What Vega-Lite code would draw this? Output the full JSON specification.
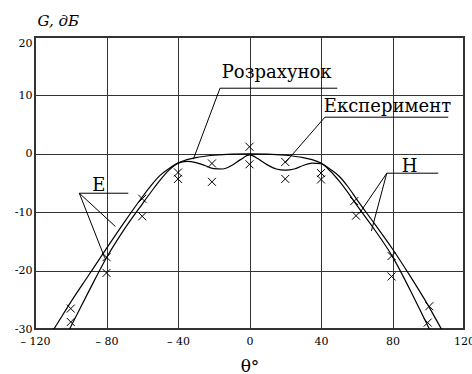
{
  "$schema": "https://vega.github.io/schema/vega-lite/v6.json",
  "width": 429,
  "height": 292,
  "autosize": {"type": "none"},
  "padding": {"left": 35, "top": 37, "right": 8, "bottom": 45},
  "background": "white",
  "config": {
    "view": {"stroke": "#333", "strokeWidth": 2},
    "font": "DejaVu Serif"
  },
  "datasets": {
    "curves": [
      {"curve": "S", "theta": -112, "G": -31.2},
      {"curve": "S", "theta": -109, "G": -29.8},
      {"curve": "S", "theta": -100, "G": -25.4},
      {"curve": "S", "theta": -90, "G": -20.8},
      {"curve": "S", "theta": -80, "G": -16.2},
      {"curve": "S", "theta": -70, "G": -11.7},
      {"curve": "S", "theta": -60, "G": -7.4},
      {"curve": "S", "theta": -55, "G": -5.4},
      {"curve": "S", "theta": -50, "G": -3.7},
      {"curve": "S", "theta": -45, "G": -2.5},
      {"curve": "S", "theta": -40, "G": -1.6},
      {"curve": "S", "theta": -35, "G": -1.0},
      {"curve": "S", "theta": -30, "G": -0.65},
      {"curve": "S", "theta": -20, "G": -0.25},
      {"curve": "S", "theta": -10, "G": -0.05},
      {"curve": "S", "theta": 0, "G": 0},
      {"curve": "S", "theta": 10, "G": -0.05},
      {"curve": "S", "theta": 20, "G": -0.25},
      {"curve": "S", "theta": 30, "G": -0.65},
      {"curve": "S", "theta": 35, "G": -1.0},
      {"curve": "S", "theta": 40, "G": -1.6},
      {"curve": "S", "theta": 45, "G": -2.6},
      {"curve": "S", "theta": 50, "G": -3.8},
      {"curve": "S", "theta": 55, "G": -5.6},
      {"curve": "S", "theta": 60, "G": -7.8},
      {"curve": "S", "theta": 70, "G": -12.0},
      {"curve": "S", "theta": 80, "G": -16.3},
      {"curve": "S", "theta": 90, "G": -21.0},
      {"curve": "S", "theta": 100, "G": -26.0},
      {"curve": "S", "theta": 107, "G": -29.8},
      {"curve": "S", "theta": 110, "G": -31.4},
      {"curve": "W", "theta": -103, "G": -31.4},
      {"curve": "W", "theta": -100, "G": -29.6},
      {"curve": "W", "theta": -90, "G": -23.6},
      {"curve": "W", "theta": -80, "G": -17.8},
      {"curve": "W", "theta": -70, "G": -12.9},
      {"curve": "W", "theta": -60, "G": -8.6},
      {"curve": "W", "theta": -55, "G": -6.5},
      {"curve": "W", "theta": -50, "G": -4.5},
      {"curve": "W", "theta": -45, "G": -2.8},
      {"curve": "W", "theta": -40, "G": -1.6},
      {"curve": "W", "theta": -35, "G": -1.3},
      {"curve": "W", "theta": -30, "G": -1.5},
      {"curve": "W", "theta": -25, "G": -2.0},
      {"curve": "W", "theta": -20, "G": -2.55},
      {"curve": "W", "theta": -15, "G": -2.6},
      {"curve": "W", "theta": -10, "G": -2.0},
      {"curve": "W", "theta": -5, "G": -1.0},
      {"curve": "W", "theta": 0, "G": -0.2},
      {"curve": "W", "theta": 5, "G": -0.9},
      {"curve": "W", "theta": 10, "G": -1.9},
      {"curve": "W", "theta": 15, "G": -2.6},
      {"curve": "W", "theta": 20, "G": -2.8},
      {"curve": "W", "theta": 25, "G": -2.6},
      {"curve": "W", "theta": 30, "G": -2.0},
      {"curve": "W", "theta": 35, "G": -1.6},
      {"curve": "W", "theta": 40, "G": -1.7},
      {"curve": "W", "theta": 45, "G": -2.9},
      {"curve": "W", "theta": 50, "G": -4.6},
      {"curve": "W", "theta": 55, "G": -6.6},
      {"curve": "W", "theta": 60, "G": -8.8},
      {"curve": "W", "theta": 70, "G": -13.0},
      {"curve": "W", "theta": 80, "G": -17.6},
      {"curve": "W", "theta": 90, "G": -23.4},
      {"curve": "W", "theta": 100, "G": -29.6},
      {"curve": "W", "theta": 102, "G": -30.8}
    ],
    "exp": [
      {"theta": -100, "G": -26.5},
      {"theta": -100, "G": -28.8},
      {"theta": -80, "G": -17.7},
      {"theta": -80, "G": -20.4},
      {"theta": -60, "G": -7.7},
      {"theta": -60, "G": -10.7},
      {"theta": -40, "G": -3.2},
      {"theta": -40, "G": -4.3},
      {"theta": -21, "G": -1.65},
      {"theta": -21, "G": -4.8},
      {"theta": 0, "G": 1.2},
      {"theta": 0, "G": -1.8},
      {"theta": 20, "G": -1.4},
      {"theta": 20, "G": -4.3},
      {"theta": 40, "G": -3.3},
      {"theta": 40, "G": -4.4},
      {"theta": 58.6, "G": -8.1},
      {"theta": 59.6, "G": -10.6},
      {"theta": 79.5, "G": -17.5},
      {"theta": 79.5, "G": -21.0},
      {"theta": 100.6, "G": -26.1},
      {"theta": 99.7, "G": -28.9}
    ],
    "leaders": [
      {"theta": -16.5, "G": 11.23, "theta2": 49.1, "G2": 11.23},
      {"theta": -16.5, "G": 11.23, "theta2": -31.4, "G2": -0.92},
      {"theta": 42.2, "G": 6.27, "theta2": 111.2, "G2": 6.27},
      {"theta": 42.2, "G": 6.27, "theta2": 19.9, "G2": -1.56},
      {"theta": 76.8, "G": -3.32, "theta2": 105.6, "G2": -3.32},
      {"theta": 76.8, "G": -3.32, "theta2": 61.5, "G2": -10.2},
      {"theta": 76.8, "G": -3.32, "theta2": 68.2, "G2": -13.2},
      {"theta": -95.2, "G": -6.75, "theta2": -67.8, "G2": -6.75},
      {"theta": -95.2, "G": -6.75, "theta2": -75.0, "G2": -12.45},
      {"theta": -95.2, "G": -6.75, "theta2": -81.0, "G2": -17.8}
    ],
    "labels": [
      {"theta": 15.2, "G": 12.95, "text": "Розрахунок"},
      {"theta": 77.2, "G": 7.12, "text": "Експеримент"},
      {"theta": 89.5, "G": -3.15, "text": "H"},
      {"theta": -84.3, "G": -6.3, "text": "E"}
    ]
  },
  "layer": [
    {
      "data": {"name": "curves"},
      "mark": {"type": "line", "interpolate": "monotone", "color": "black", "strokeWidth": 1.2, "clip": true},
      "encoding": {
        "x": {
          "field": "theta", "type": "quantitative",
          "scale": {"domain": [-120, 120], "nice": false, "zero": false},
          "axis": {
            "title": "θ°",
            "values": [-120, -80, -40, 0, 40, 80, 120],
            "grid": true, "gridColor": "#333", "gridWidth": 1,
            "domain": false, "ticks": false,
            "labelPadding": 6, "labelFont": "DejaVu Serif", "labelFontSize": 11, "labelColor": "#000",
            "labelFlush": false, "labelOverlap": false,
            "labelExpr": "datum.value < 0 ? '– ' + abs(datum.value) : '' + datum.value",
            "titleFont": "DejaVu Serif", "titleFontSize": 17, "titleFontWeight": "normal", "titleColor": "#000",
            "titleY": 42, "titleBaseline": "alphabetic"
          }
        },
        "y": {
          "field": "G", "type": "quantitative",
          "scale": {"domain": [-30, 20], "nice": false, "zero": false},
          "axis": {
            "title": "G, дБ",
            "values": [-30, -20, -10, 0, 10, 20],
            "grid": true, "gridColor": "#333", "gridWidth": 1,
            "domain": false, "ticks": false,
            "labelPadding": 3, "labelFont": "DejaVu Serif", "labelFontSize": 11, "labelColor": "#000",
            "labelFlush": false, "labelOverlap": false,
            "labelBaseline": {"condition": {"test": "datum.value == 20", "value": "top"}, "value": "middle"},
            "labelExpr": "datum.value < 0 ? '-' + abs(datum.value) : '' + datum.value",
            "titleFont": "DejaVu Serif", "titleFontSize": 15, "titleFontStyle": "italic", "titleFontWeight": "normal", "titleColor": "#000",
            "titleAngle": 0, "titleX": 2, "titleY": -12, "titleAlign": "left", "titleBaseline": "alphabetic"
          }
        },
        "detail": {"field": "curve"}
      }
    },
    {
      "data": {"name": "exp"},
      "mark": {"type": "point", "shape": "M-1,-1L1,1M-1,1L1,-1", "size": 64, "filled": false, "stroke": "black", "strokeWidth": 1, "opacity": 1},
      "encoding": {
        "x": {"field": "theta", "type": "quantitative", "title": "θ°"},
        "y": {"field": "G", "type": "quantitative", "title": "G, дБ"}
      }
    },
    {
      "data": {"name": "leaders"},
      "mark": {"type": "rule", "color": "black", "strokeWidth": 1},
      "encoding": {
        "x": {"field": "theta", "type": "quantitative", "title": "θ°"},
        "y": {"field": "G", "type": "quantitative", "title": "G, дБ"},
        "x2": {"field": "theta2"},
        "y2": {"field": "G2"}
      }
    },
    {
      "data": {"name": "labels"},
      "mark": {"type": "text", "font": "DejaVu Serif", "fontSize": 18, "color": "black", "align": "center", "baseline": "alphabetic"},
      "encoding": {
        "x": {"field": "theta", "type": "quantitative", "title": "θ°"},
        "y": {"field": "G", "type": "quantitative", "title": "G, дБ"},
        "text": {"field": "text"}
      }
    }
  ]
}
